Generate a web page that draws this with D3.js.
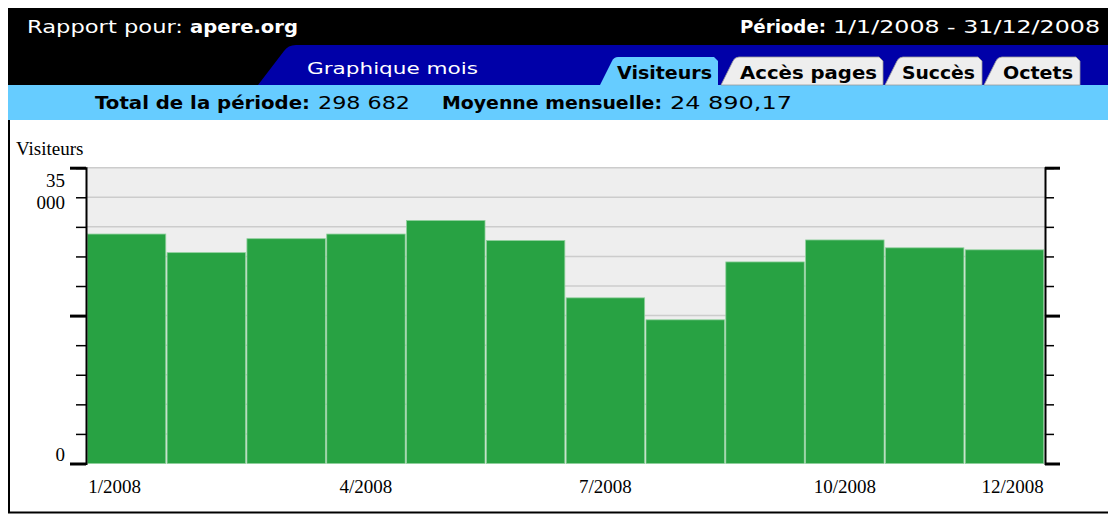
<!DOCTYPE html>
<html><head><meta charset="utf-8">
<script src="https://cdn.jsdelivr.net/npm/d3@7/dist/d3.min.js"></script>
<style>body{margin:0;background:#fff;}svg{display:block;}</style>
</head><body>
<svg id="c" width="1108" height="515"></svg>
<script>
// ---- data ----
const months = ["1/2008","2/2008","3/2008","4/2008","5/2008","6/2008","7/2008","8/2008","9/2008","10/2008","11/2008","12/2008"];
const visitors = [27150, 24950, 26600, 27150, 28750, 26380, 19600, 17000, 23850, 26450, 25520, 25282];
const xTickLabels = ["1/2008","4/2008","7/2008","10/2008","12/2008"];
const yTicks = [0,3500,7000,10500,14000,17500,21000,24500,28000,31500,35000];
const yMajorTicks = [0,17500,35000];
const tabs = ["Visiteurs","Accès pages","Succès","Octets"];
const activeTab = "Visiteurs";
const header = {site:"apere.org", period:"1/1/2008 - 31/12/2008", total:"298 682", mean:"24 890,17"};

const svg = d3.select("#c");
const SANS = "DejaVu Sans, Verdana, sans-serif";
const SERIF = "Liberation Serif, Times New Roman, serif";

// ---- header frame ----
svg.append("rect").attr("x",8).attr("y",8).attr("width",1120).attr("height",80).attr("fill","#000");
svg.append("path").attr("d","M258,85 L284,51 Q288,45 296,45 L1120,45 L1120,85 Z").attr("fill","#0000A8");
svg.append("rect").attr("x",8).attr("y",85).attr("width",1120).attr("height",35).attr("fill","#66CCFF");
// chart frame borders
svg.append("line").attr("x1",9).attr("x2",9).attr("y1",120).attr("y2",513).attr("stroke","#000").attr("stroke-width",2);
svg.append("line").attr("x1",8).attr("x2",1120).attr("y1",512.5).attr("y2",512.5).attr("stroke","#000").attr("stroke-width",2);

function txt(s, x, y, opt){
  const t = svg.append("text").attr("x",x).attr("y",y).text(s)
    .attr("font-family",opt.family||SANS).attr("font-size",opt.size||17)
    .attr("font-weight",opt.bold?"bold":"normal").attr("fill",opt.fill||"#000");
  if(opt.anchor) t.attr("text-anchor",opt.anchor);
  if(opt.len){ t.attr("textLength",opt.len).attr("lengthAdjust","spacingAndGlyphs"); }
  return t;
}
// row 1
txt("Rapport pour:", 27, 33, {fill:"#fff", len:156});
txt(header.site, 190, 33, {fill:"#fff", bold:true, len:108});
txt("Période:", 740, 33, {fill:"#fff", bold:true, len:86});
txt(header.period, 833, 33, {fill:"#fff", len:267});
// row 2
txt("Graphique mois", 307, 74, {fill:"#fff", size:16, len:171});

// tabs
const tabGeom = [[600,718,617,95],[721,883,740,137],[885,982,902,73],[984,1080,1003,70]];
tabs.forEach((name,i)=>{
  const [x0,x1,tx,tl] = tabGeom[i];
  const active = name===activeTab;
  svg.append("path")
    .attr("d",`M${x0},85 L${x0+12},61 Q${x0+14},57 ${x0+18},57 L${x1-4},57 L${x1},61 L${x1},85 Z`)
    .attr("fill", active?"#66CCFF":"#EEEEEE")
    .attr("stroke", active?"none":"#9a9a9a").attr("stroke-width",0.8);
  txt(name, tx, 79, {bold:true, len:tl});
});
// row 3
txt("Total de la période:", 95, 109, {bold:true, len:215});
txt(header.total, 318, 109, {len:92});
txt("Moyenne mensuelle:", 442, 109, {bold:true, len:220});
txt(header.mean, 670, 109, {len:122});

// ---- chart ----
const L = 86, R = 1045, T = 167.7, B = 463.5;
const y = d3.scaleLinear().domain([0,35000]).range([B,T]);
const x = d3.scaleBand().domain(months).range([87.3,1043.7]).paddingInner(0.017).paddingOuter(0);

svg.append("rect").attr("x",L).attr("y",T).attr("width",R-L).attr("height",B-T).attr("fill","#EEEEEE");
svg.append("g").selectAll("line").data(yTicks.slice(1)).join("line")
  .attr("x1",L).attr("x2",R).attr("y1",d=>y(d)).attr("y2",d=>y(d))
  .attr("stroke","#CCCCCC").attr("stroke-width",1.5);

svg.append("g").selectAll("rect").data(visitors).join("rect")
  .attr("x",(d,i)=>x(months[i])).attr("width",x.bandwidth())
  .attr("y",d=>y(d)).attr("height",d=>B-y(d))
  .attr("fill","#28A243").attr("stroke","#8fd09c").attr("stroke-width",0.8);

// axes (minor)
const ax1 = svg.append("g").attr("transform",`translate(${L},0)`)
  .call(d3.axisLeft(y).tickValues(yTicks).tickSize(10).tickFormat(""));
const ax2 = svg.append("g").attr("transform",`translate(${R},0)`)
  .call(d3.axisRight(y).tickValues(yTicks).tickSize(9).tickFormat(""));
[ax1,ax2].forEach(a=>{
  a.select(".domain").attr("stroke","#000").attr("stroke-width",2);
  a.selectAll(".tick line").attr("stroke","#000").attr("stroke-width",1.5);
});
// major ticks
const mj1 = svg.append("g").attr("transform",`translate(${L},0)`)
  .call(d3.axisLeft(y).tickValues(yMajorTicks).tickSize(16).tickSizeOuter(0).tickFormat(""));
const mj2 = svg.append("g").attr("transform",`translate(${R},0)`)
  .call(d3.axisRight(y).tickValues(yMajorTicks).tickSize(15).tickSizeOuter(0).tickFormat(""));
[mj1,mj2].forEach(a=>{
  a.select(".domain").remove();
  a.selectAll(".tick line").attr("stroke","#000").attr("stroke-width",3);
});

// y labels
txt("35", 65, 187, {family:SERIF, size:19, anchor:"end"});
txt("000", 65, 209, {family:SERIF, size:19, anchor:"end"});
txt("0", 65, 461, {family:SERIF, size:19, anchor:"end"});
txt("Visiteurs", 16, 155, {family:SERIF, size:19});

// x labels
xTickLabels.forEach((m,i)=>{
  let px = x(m)+x.bandwidth()/2, anc = "middle";
  if(i===0){ px = x(m)+1; anc="start"; }
  if(i===xTickLabels.length-1){ px = x(m)+x.bandwidth(); anc="end"; }
  txt(m, px, 493, {family:SERIF, size:19, anchor:anc});
});
</script>
</body></html>
